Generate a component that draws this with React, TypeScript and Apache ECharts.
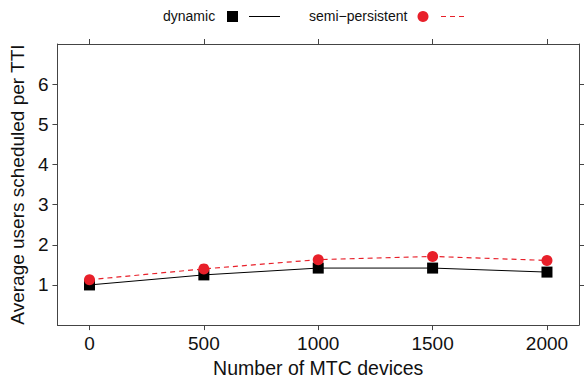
import React, { useEffect, useRef } from "react";
import * as echarts from "echarts";

const mtcDevices = [0, 500, 1000, 1500, 2000];
const dynamicUsers = [1.0, 1.25, 1.42, 1.42, 1.32];
const semiPersistentUsers = [1.13, 1.4, 1.63, 1.71, 1.61];
const yTicks = [1, 2, 3, 4, 5, 6];

const AXIS_COLOR = "#444";
const RED = "#e8202a";
const FONT = "'Liberation Sans', Arial, Helvetica, sans-serif";

export default function App() {
  const ref = useRef<HTMLDivElement>(null);

  useEffect(() => {
    if (!ref.current) return;
    const chart = echarts.init(ref.current, null, { renderer: "svg" });

    const xBase = {
      type: "value" as const,
      min: -140,
      max: 2140,
      splitLine: { show: false },
      axisLine: { show: true, onZero: false, lineStyle: { color: AXIS_COLOR, width: 1 } },
      axisTick: {
        show: true,
        inside: false,
        length: 5,
        customValues: mtcDevices,
        lineStyle: { color: AXIS_COLOR },
      },
    };
    const yBase = {
      type: "value" as const,
      min: 0,
      max: 7,
      interval: 1,
      splitLine: { show: false },
      axisLine: { show: true, onZero: false, lineStyle: { color: AXIS_COLOR, width: 1 } },
      axisTick: {
        show: true,
        inside: false,
        length: 5,
        customValues: yTicks,
        lineStyle: { color: AXIS_COLOR },
      },
    };

    chart.setOption({
      animation: false,
      backgroundColor: "#fff",
      textStyle: { fontFamily: FONT },
      grid: { left: 56, right: 5, top: 44, bottom: 56 },
      xAxis: [
        {
          ...xBase,
          position: "bottom",
          name: "Number of MTC devices",
          nameLocation: "middle",
          nameGap: 28,
          nameTextStyle: { fontSize: 19.5, color: "#111", fontFamily: FONT },
          axisLabel: {
            show: true,
            customValues: mtcDevices,
            formatter: (v: number) => String(v),
            fontSize: 19,
            color: "#111",
            margin: 9,
            fontFamily: FONT,
          },
        },
        {
          ...xBase,
          position: "top",
          axisLabel: { show: false },
        },
      ],
      yAxis: [
        {
          ...yBase,
          position: "left",
          name: "Average users scheduled per TTI",
          nameLocation: "middle",
          nameGap: 29,
          nameTextStyle: { fontSize: 19, color: "#111", fontFamily: FONT },
          axisLabel: {
            show: true,
            customValues: yTicks,
            formatter: (v: number) => String(v),
            fontSize: 19,
            color: "#111",
            margin: 9,
            fontFamily: FONT,
          },
        },
        {
          ...yBase,
          position: "right",
          axisLabel: { show: false },
        },
      ],
      series: [
        {
          name: "dynamic",
          type: "line",
          data: mtcDevices.map((x, i) => [x, dynamicUsers[i]]),
          symbol: "rect",
          symbolSize: 11,
          itemStyle: { color: "#000" },
          lineStyle: { color: "#000", width: 1 },
          z: 2,
        },
        {
          name: "semi−persistent",
          type: "line",
          data: mtcDevices.map((x, i) => [x, semiPersistentUsers[i]]),
          symbol: "circle",
          symbolSize: 11,
          itemStyle: { color: RED },
          lineStyle: { color: RED, width: 1.2, type: [5, 4] },
          z: 3,
        },
      ],
      graphic: [
        {
          type: "text",
          left: 163,
          top: 9,
          style: { text: "dynamic", fontSize: 14, fill: "#111", fontFamily: FONT },
        },
        {
          type: "rect",
          shape: { x: 227, y: 11, width: 11, height: 11 },
          style: { fill: "#000" },
        },
        {
          type: "line",
          shape: { x1: 249, y1: 16.5, x2: 280, y2: 16.5 },
          style: { stroke: "#000", lineWidth: 1 },
        },
        {
          type: "text",
          left: 309,
          top: 9,
          style: { text: "semi−persistent", fontSize: 14, fill: "#111", fontFamily: FONT },
        },
        {
          type: "circle",
          shape: { cx: 423, cy: 16.5, r: 5.5 },
          style: { fill: RED },
        },
        {
          type: "line",
          shape: { x1: 441, y1: 16.5, x2: 468, y2: 16.5 },
          style: { stroke: RED, lineWidth: 1.2, lineDash: [5, 4] },
        },
      ],
    });

    return () => chart.dispose();
  }, []);

  return (
    <div
      ref={ref}
      style={{ position: "fixed", left: 0, top: 0, width: 584, height: 383 }}
    />
  );
}
